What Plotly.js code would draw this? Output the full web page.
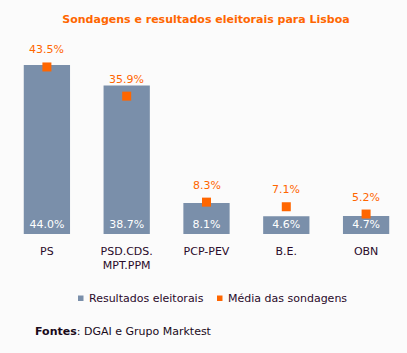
<!DOCTYPE html>
<html>
<head>
<meta charset="utf-8">
<script src="https://cdn.plot.ly/plotly-3.0.1.min.js"></script>
<style>html,body{margin:0;padding:0;background:#fbfbfb;}</style>
</head>
<body>
<div id="chart" style="width:407px;height:353px;"></div>
<script>
const categories = ['PS', 'PSD.CDS.<br>MPT.PPM', 'PCP-PEV', 'B.E.', 'OBN'];
const results = [44.0, 38.7, 8.1, 4.6, 4.7];
const polls = [43.5, 35.9, 8.3, 7.1, 5.2];
const seriesNames = ['Resultados eleitorais', 'Média das sondagens'];
const titleText = 'Sondagens e resultados eleitorais para Lisboa';
const sourceText = '<b>Fontes</b>: DGAI e Grupo Marktest';

const W = 407, H = 353;
const M = {l: 7, r: 1, t: 42, b: 119};
const pw = W - M.l - M.r, ph = H - M.t - M.b;
const px2x = p => (p - M.l) / pw;
const py2y = p => (H - M.b - p) / ph;

const barColor = '#7a8faa';
const orange = '#ff6600';
const textColor = '#2a0a2a';
const FONT = 'DejaVu Sans, Verdana, sans-serif';

const traces = [
  {
    type: 'bar',
    name: seriesNames[0],
    x: categories,
    y: results,
    marker: {color: barColor},
    text: results.map(v => v.toFixed(1) + '%'),
    textposition: 'inside',
    insidetextanchor: 'start',
    constraintext: 'none',
    textfont: {color: '#ffffff', size: 11, family: FONT},
    hoverinfo: 'skip'
  },
  {
    type: 'scatter',
    mode: 'markers',
    name: seriesNames[1],
    x: categories,
    y: polls,
    marker: {symbol: 'square', size: 9, color: orange},
    hoverinfo: 'skip'
  }
];

const annotations = polls.map((v, i) => ({
  x: categories[i], y: v, xref: 'x', yref: 'y',
  text: v.toFixed(1) + '%', showarrow: false,
  yshift: 17, font: {color: orange, size: 11, family: FONT}
}));

annotations.push(
  {xref: 'paper', yref: 'paper', x: px2x(87), y: py2y(298), xanchor: 'left', yanchor: 'middle',
   text: seriesNames[0], showarrow: false, font: {color: textColor, size: 11, family: FONT}},
  {xref: 'paper', yref: 'paper', x: px2x(226), y: py2y(298), xanchor: 'left', yanchor: 'middle',
   text: seriesNames[1], showarrow: false, font: {color: textColor, size: 11, family: FONT}},
  {xref: 'paper', yref: 'paper', x: px2x(33), y: py2y(331), xanchor: 'left', yanchor: 'middle',
   text: sourceText, showarrow: false, font: {color: '#1a0a1a', size: 11, family: FONT}}
);

const shapes = [
  {type: 'rect', xref: 'paper', yref: 'paper', x0: px2x(78), x1: px2x(83.5), y0: py2y(301), y1: py2y(295.5),
   fillcolor: barColor, line: {width: 0}},
  {type: 'rect', xref: 'paper', yref: 'paper', x0: px2x(217), x1: px2x(222.5), y0: py2y(301), y1: py2y(295.5),
   fillcolor: orange, line: {width: 0}}
];

const layout = {
  width: W, height: H,
  margin: M,
  paper_bgcolor: '#fbfbfb',
  plot_bgcolor: '#fbfbfb',
  showlegend: false,
  bargap: 0.42,
  font: {family: FONT, size: 11, color: textColor},
  title: {
    text: '<b>' + titleText + '</b>',
    font: {family: FONT, size: 11, color: orange},
    x: 206 / W, xanchor: 'center', xref: 'container',
    y: 1 - 19 / H, yanchor: 'middle', yref: 'container'
  },
  xaxis: {
    type: 'category',
    showline: false, showgrid: false, zeroline: false,
    ticks: '', ticklabelstandoff: 9,
    tickfont: {family: FONT, size: 11, color: textColor},
    range: [-0.5, 4.5], fixedrange: true
  },
  yaxis: {
    range: [0, 50],
    showline: false, showgrid: false, zeroline: false, showticklabels: false,
    ticks: '', fixedrange: true
  },
  annotations: annotations,
  shapes: shapes
};

Plotly.newPlot('chart', traces, layout, {displayModeBar: false, staticPlot: true});
</script>
</body>
</html>
